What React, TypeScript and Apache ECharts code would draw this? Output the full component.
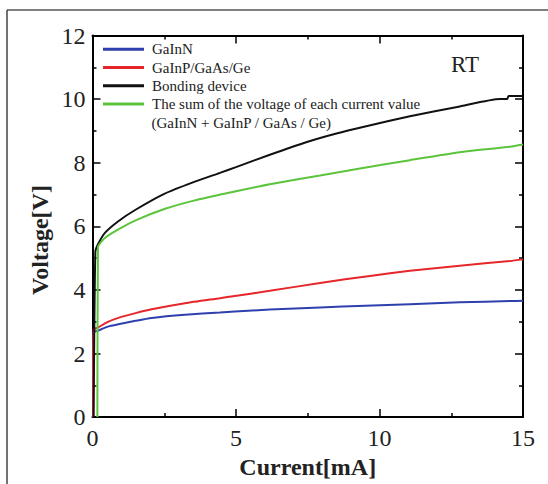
import React, { useEffect, useRef } from "react";
import * as echarts from "echarts";

const seriesNames = [
  "GaInN",
  "GaInP/GaAs/Ge",
  "Bonding device",
  "The sum of the voltage of each current value",
];
const sumSecondLine = "(GaInN + GaInP / GaAs / Ge)";
const xTicks = [0, 5, 10, 15];
const yTicks = [0, 2, 4, 6, 8, 10, 12];

const gainnI = [0.02, 0.04, 0.2, 0.4, 0.6, 0.9, 1.5, 2.06, 3.22, 4.44, 4.96, 6.18, 7.93, 9.5, 11.06, 12.8, 14.55, 15];
const gainnV = [0, 2.66, 2.72, 2.8, 2.86, 2.92, 3.03, 3.12, 3.22, 3.29, 3.32, 3.38, 3.45, 3.5, 3.55, 3.61, 3.65, 3.66];

const gainpI = [0.02, 0.04, 0.2, 0.5, 0.9, 1.5, 2.06, 3.22, 4.44, 4.96, 6.18, 7.93, 9.67, 11.06, 12.8, 14.55, 15];
const gainpV = [0, 2.75, 2.82, 2.98, 3.12, 3.27, 3.39, 3.58, 3.74, 3.81, 3.97, 4.22, 4.44, 4.6, 4.76, 4.91, 4.96];

const bondI = [0.04, 0.1, 0.2, 0.44, 0.9, 1.5, 2.5, 3.5, 4.44, 5, 6.18, 7.5, 8.5, 9.5, 11.06, 12.8, 14.2, 14.45, 14.5, 15];
const bondV = [0, 5.2, 5.45, 5.8, 6.16, 6.52, 7.02, 7.38, 7.68, 7.86, 8.25, 8.66, 8.92, 9.14, 9.46, 9.77, 10.0, 10.0, 10.1, 10.1];

const sumI = [0.17, 0.19, 0.25, 0.44, 0.9, 1.48, 2.53, 3.5, 5, 6.18, 7.93, 9.32, 11.06, 12.8, 14.55, 15];
const sumV = [0, 5.35, 5.45, 5.64, 5.9, 6.18, 6.55, 6.8, 7.1, 7.32, 7.6, 7.82, 8.08, 8.33, 8.5, 8.57];

const colors = ["#2e3fae", "#e6262a", "#111111", "#5cc43c"];

const zip = (xs: number[], ys: number[]) => xs.map((x, i) => [x, ys[i]]);

const FONT = "Liberation Serif, Times New Roman, serif";

export default function App() {
  const ref = useRef<HTMLDivElement>(null);
  useEffect(() => {
    if (!ref.current) return;
    const chart = echarts.init(ref.current, null, { renderer: "svg" });
    const axisCommon = {
      type: "value" as const,
      axisLine: { show: true, onZero: false, lineStyle: { color: "#000", width: 2 } },
      axisTick: { show: true, inside: true, length: 8, lineStyle: { color: "#000", width: 1.5 } },
      minorTick: { show: true, splitNumber: 2, length: 4, lineStyle: { color: "#000", width: 1.5 } },
      splitLine: { show: false },
    };
    const xLabel = {
      show: true,
      margin: 9,
      fontFamily: FONT,
      fontSize: 24,
      color: "#222",
      formatter: (v: number) => (xTicks.includes(v) ? String(v) : ""),
    };
    const yLabel = {
      show: true,
      margin: 7,
      fontFamily: FONT,
      fontSize: 24,
      color: "#222",
      formatter: (v: number) => (yTicks.includes(v) ? String(v) : ""),
    };
    const data = [zip(gainnI, gainnV), zip(gainpI, gainpV), zip(bondI, bondV), zip(sumI, sumV)];
    chart.setOption({
      animation: false,
      backgroundColor: "#fff",
      grid: { left: 92.5, right: 25, top: 35.5, bottom: 65.7, containLabel: false },
      xAxis: [
        { ...axisCommon, position: "bottom", min: 0, max: 15, interval: 5, axisLabel: xLabel,
          name: "Current[mA]", nameLocation: "middle", nameGap: 36,
          nameTextStyle: { fontFamily: FONT, fontSize: 24, fontWeight: "bold", color: "#222" } },
        { ...axisCommon, position: "top", min: 0, max: 15, interval: 5, axisLabel: { show: false } },
      ],
      yAxis: [
        { ...axisCommon, position: "left", min: 0, max: 12, interval: 2, axisLabel: yLabel },
        { ...axisCommon, position: "right", min: 0, max: 12, interval: 2, axisLabel: { show: false } },
      ],
      legend: {
        orient: "vertical",
        left: 103,
        top: 41.8,
        padding: 0,
        itemWidth: 41,
        itemHeight: 3,
        itemGap: 3.2,
        icon: "rect",
        data: seriesNames,
        textStyle: { fontFamily: FONT, fontSize: 15, color: "#222", lineHeight: 15, padding: [0, 0, 0, 3] },
      },
      series: seriesNames.map((name, i) => ({
        name,
        type: "line",
        xAxisIndex: 0,
        yAxisIndex: 0,
        showSymbol: false,
        symbol: "none",
        smooth: 0.2,
        data: data[i],
        lineStyle: { color: colors[i], width: 2 },
        itemStyle: { color: colors[i] },
        z: 3 + i,
      })),
      graphic: [
        { type: "line", shape: { x1: 7, y1: 10, x2: 548, y2: 10 }, style: { stroke: "#555", lineWidth: 1.5 } },
        { type: "line", shape: { x1: 7, y1: 10, x2: 7, y2: 484 }, style: { stroke: "#444", lineWidth: 1.5 } },
        {
          type: "text", x: 151.5, y: 122.5,
          style: { text: sumSecondLine, fontFamily: FONT, fontSize: 15, fill: "#222", align: "left", verticalAlign: "middle" },
        },
        {
          type: "text", x: 451, y: 64.5,
          style: { text: "RT", fontFamily: FONT, fontSize: 23, fill: "#222", align: "left", verticalAlign: "middle" },
        },
        {
          type: "text", x: 40, y: 240, rotation: Math.PI / 2,
          style: { text: "Voltage[V]", fontFamily: FONT, fontSize: 24, fontWeight: "bold", fill: "#222", align: "center", verticalAlign: "middle" },
        },
      ],
    });
    return () => chart.dispose();
  }, []);
  return <div ref={ref} style={{ position: "fixed", left: 0, top: 0, width: 548, height: 484 }} />;
}
